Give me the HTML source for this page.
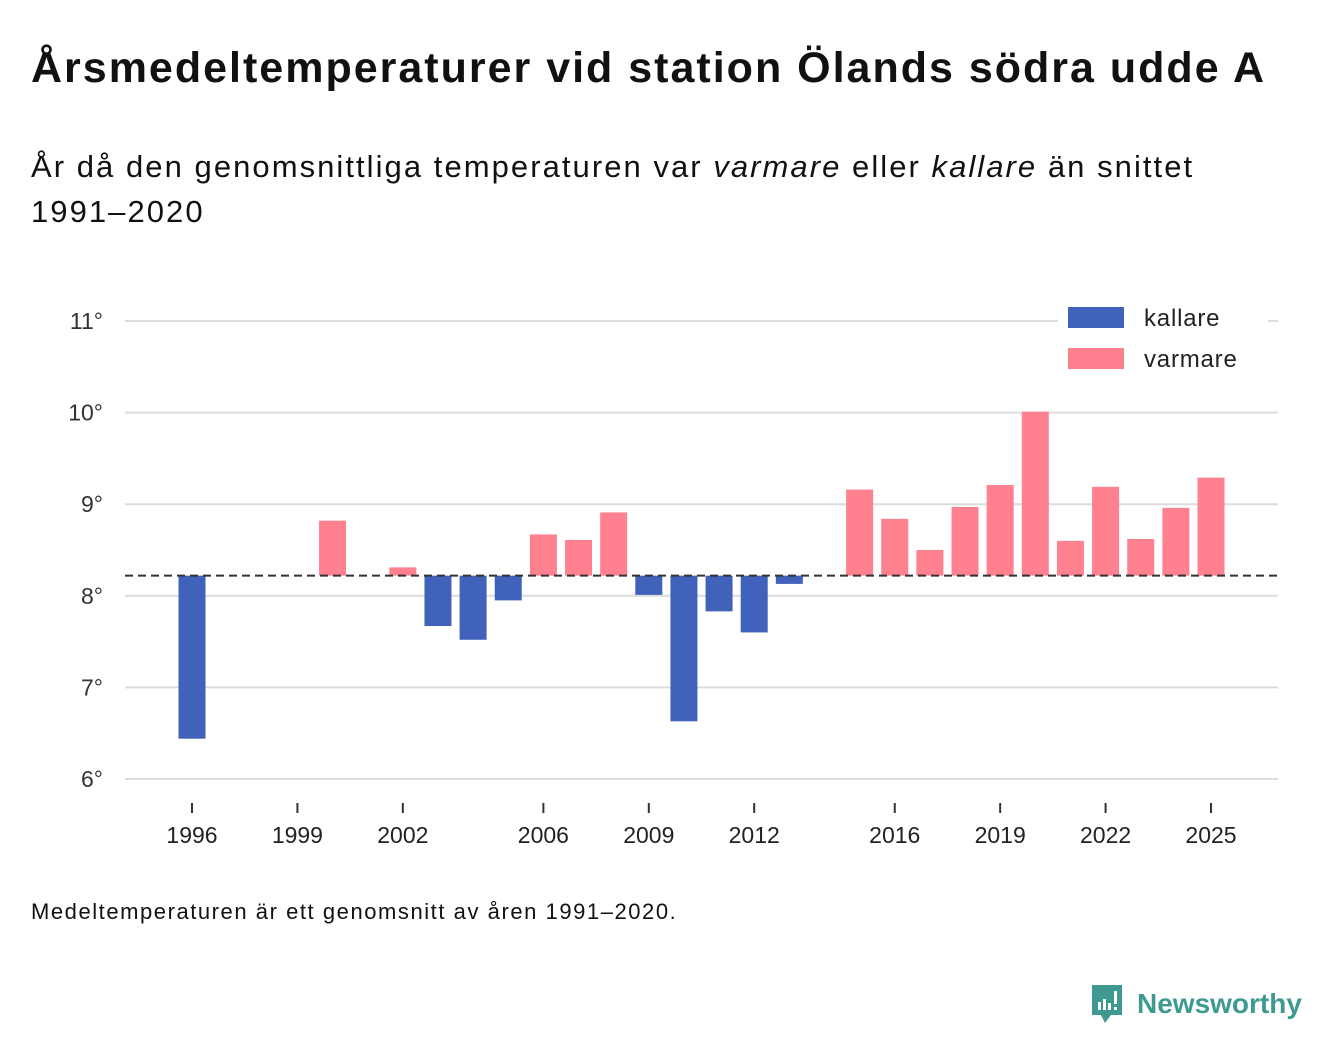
<!DOCTYPE html>
<html><head><meta charset="utf-8"><style>
body{margin:0;width:1340px;height:1056px;background:#fff;font-family:"Liberation Sans",sans-serif;color:#111;position:relative;overflow:hidden}
.t{position:absolute;left:31px;top:44px;font-size:43px;font-weight:bold;letter-spacing:2.0px;white-space:nowrap}
.s{position:absolute;left:31px;top:144px;font-size:31px;line-height:45px;width:1200px;letter-spacing:2.05px}
.f{position:absolute;left:31px;top:899px;font-size:22px;letter-spacing:1.55px;white-space:nowrap}
.logo{position:absolute;left:1089px;top:983px;display:flex;align-items:center}
.logo span{color:#3e9a91;font-size:28px;font-weight:bold;margin-left:12px}
</style></head><body>
<div class="t">Årsmedeltemperaturer vid station Ölands södra udde A</div>
<div class="s">År då den genomsnittliga temperaturen var <i>varmare</i> eller <i>kallare</i> än snittet<br>1991–2020</div>
<svg id="c" width="1340" height="1056" style="position:absolute;left:0;top:0"></svg>
<div class="f">Medeltemperaturen är ett genomsnitt av åren 1991–2020.</div>
<div class="logo">
<svg width="36" height="42" viewBox="0 0 36 42"><path d="M3 2h30v30H22l-6 8-4-8H3z" fill="#3e9a91"/><rect x="9" y="19" width="3" height="8" fill="#fff"/><rect x="14" y="16" width="3" height="11" fill="#fff"/><rect x="19" y="20" width="3" height="7" fill="#fff"/><rect x="25" y="8" width="3" height="13" fill="#fff"/><rect x="25" y="24" width="3" height="3" fill="#fff"/></svg>
<span>Newsworthy</span></div>
<script>
const years=[1996,2000,2002,2003,2004,2005,2006,2007,2008,2009,2010,2011,2012,2013,2015,2016,2017,2018,2019,2020,2021,2022,2023,2024,2025];
const temps=[6.44,8.82,8.31,7.67,7.52,7.95,8.67,8.61,8.91,8.01,6.63,7.83,7.60,8.13,9.16,8.84,8.50,8.97,9.21,10.01,8.60,9.19,8.62,8.96,9.29];
const baseline=8.22;
const yTicks=[6,7,8,9,10,11];
const xTicks=[1996,1999,2002,2006,2009,2012,2016,2019,2022,2025];
const NS="http://www.w3.org/2000/svg",svg=document.getElementById('c');
const x=y=>192+(y-1996)*(1019/29);
const yS=v=>779-(v-6)*91.6;
function mk(t,a,p){const e=document.createElementNS(NS,t);for(const k in a)e.setAttribute(k,a[k]);(p||svg).appendChild(e);return e;}
yTicks.forEach(v=>{
 const l=mk('line',{x1:125,x2:1278,y1:yS(v),y2:yS(v),stroke:'#dcdcdc','stroke-width':2});
 
 
 const t=mk('text',{x:103,y:yS(v)+8,'text-anchor':'end','font-size':23,fill:'#333'});
 t.textContent=v+'°';
 
 
});
xTicks.forEach(v=>{
 const l=mk('line',{x1:x(v),x2:x(v),y1:803,y2:813,stroke:'#333','stroke-width':2});
 
 
 const t=mk('text',{x:x(v),y:843,'text-anchor':'middle','font-size':23,fill:'#222'});
 t.textContent=v;
 
 
});
years.forEach((yr,i)=>{
 const v=temps[i],a=yS(v),b=yS(baseline);
 const r=mk('rect',{x:x(yr)-13.5,width:27,y:Math.min(a,b),height:Math.abs(a-b),fill:v<baseline?'#4062bb':'#ff808f'});
 
 
});
const d=mk('line',{x1:125,x2:1278,y1:yS(baseline),y2:yS(baseline),stroke:'#333','stroke-width':2,'stroke-dasharray':'8,5'});


const bg=mk('rect',{x:1058,y:298,width:210,height:80,fill:'#fff'});


[['kallare','#4062bb',307],['varmare','#ff808f',348]].forEach(([n,c,yy])=>{
 const r=mk('rect',{x:1068,y:yy,width:56,height:21,fill:c});
 
 
 const t=mk('text',{x:1144,y:yy+19,'font-size':24,fill:'#222','letter-spacing':0.8});
 t.textContent=n;
 
 
});
</script>
</body></html>
